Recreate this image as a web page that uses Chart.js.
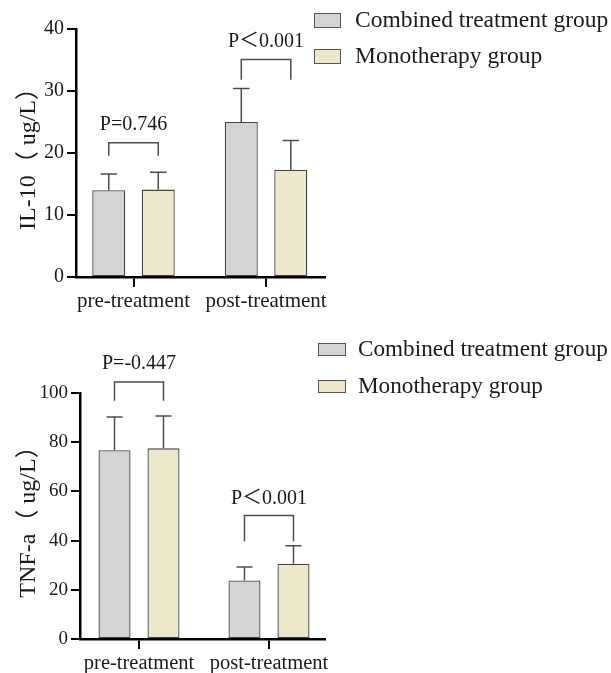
<!DOCTYPE html>
<html><head><meta charset="utf-8">
<script src="https://cdn.jsdelivr.net/npm/chart.js@4"></script>
<style>
html,body{margin:0;padding:0;background:#fff;width:611px;height:673px;overflow:hidden}
.box{position:absolute;left:0;width:611px}
</style></head><body>
<div class="box" style="top:0;height:322px"><canvas id="c1"></canvas></div>
<div class="box" style="top:330px;height:343px"><canvas id="c2"></canvas></div>
<script>
// ---- data ----
const categories = ['pre-treatment', 'post-treatment'];
const seriesNames = ['Combined treatment group', 'Monotherapy group'];

const il10Combined = [14.0, 25.0];
const il10Mono = [14.1, 17.3];
const il10CombinedSD = [2.6, 5.4];
const il10MonoSD = [2.8, 4.7];
const il10PLabels = ['P=0.746', 'P＜0.001'];
const il10Ticks = [0, 10, 20, 30, 40];
const il10Title = 'IL-10（ ug/L）';

const tnfCombined = [76.7, 23.8];
const tnfMono = [77.5, 30.6];
const tnfCombinedSD = [13.5, 5.5];
const tnfMonoSD = [13.1, 7.3];
const tnfPLabels = ['P=-0.447', 'P＜0.001'];
const tnfTicks = [0, 20, 40, 60, 80, 100];
const tnfTitle = 'TNF-a（ ug/L）';

// ---- styles ----
const FONT = "'Liberation Serif', 'Noto Sans CJK SC', serif";
const colors = ['#d4d4d4', '#ede8cc'];
const TXT = '#1a1a1a';

const annot = {
  id: 'annot',
  afterDraw(chart, args, o) {
    const ctx = chart.ctx, y = chart.scales.y;
    ctx.save();
    ctx.strokeStyle = '#4d4d4d';
    ctx.lineWidth = 1.5;
    // error bars
    o.errors.forEach((errs, di) => {
      const meta = chart.getDatasetMeta(di);
      meta.data.forEach((bar, i) => {
        const v = chart.data.datasets[di].data[i];
        const yt = y.getPixelForValue(v + errs[i]);
        const hw = bar.width / 4;
        ctx.beginPath();
        ctx.moveTo(bar.x, bar.y); ctx.lineTo(bar.x, yt);
        ctx.moveTo(bar.x - hw, yt); ctx.lineTo(bar.x + hw, yt);
        ctx.stroke();
      });
    });
    // significance brackets
    o.brackets.forEach((b, i) => {
      const b0 = chart.getDatasetMeta(0).data[i], b1 = chart.getDatasetMeta(1).data[i];
      const yTop = y.getPixelForValue(b.top), yLeg = y.getPixelForValue(b.leg);
      ctx.beginPath();
      ctx.moveTo(b0.x, yLeg); ctx.lineTo(b0.x, yTop); ctx.lineTo(b1.x, yTop); ctx.lineTo(b1.x, yLeg);
      ctx.stroke();
      ctx.fillStyle = TXT;
      ctx.font = o.pFont + 'px ' + FONT;
      ctx.textAlign = 'center'; ctx.textBaseline = 'middle';
      ctx.fillText(o.labels[i], (b0.x + b1.x) / 2, y.getPixelForValue(b.text));
    });
    // legend
    const L = o.legend;
    chart.data.datasets.forEach((ds, i) => {
      const by = L.y[i];
      ctx.fillStyle = ds.backgroundColor;
      ctx.fillRect(L.x, by, L.w, L.h);
      ctx.strokeStyle = '#555'; ctx.lineWidth = 1;
      ctx.strokeRect(L.x + 0.5, by + 0.5, L.w, L.h);
      ctx.fillStyle = TXT;
      ctx.font = L.font + 'px ' + FONT;
      ctx.textAlign = 'left'; ctx.textBaseline = 'middle';
      ctx.fillText(ds.label, L.textX, by + L.h / 2 + 1);
    });
    ctx.restore();
  }
};

function makeChart(id, vals, errs, ticks, title, pLabels, geo) {
  return new Chart(document.getElementById(id), {
    type: 'bar',
    data: {
      labels: categories,
      datasets: vals.map((v, i) => ({
        label: seriesNames[i],
        data: v,
        backgroundColor: colors[i],
        borderColor: '#444',
        borderWidth: 1.3,
        borderSkipped: false,
        categoryPercentage: geo.catPct,
        barPercentage: geo.barPct
      }))
    },
    options: {
      responsive: true,
      maintainAspectRatio: false,
      animation: false,
      layout: { padding: { left: 0, right: geo.padRight, top: geo.padTop, bottom: geo.padBottom } },
      plugins: {
        legend: { display: false },
        tooltip: { enabled: false },
        annot: {
          errors: errs,
          brackets: geo.brackets,
          labels: pLabels,
          pFont: geo.pFont,
          legend: geo.legend
        }
      },
      scales: {
        x: {
          offset: true,
          grid: { display: true, offset: false, drawOnChartArea: false, drawTicks: true, tickLength: 10, color: '#000', lineWidth: 2 },
          border: { display: true, color: '#000', width: 2.5 },
          ticks: { color: TXT, font: { family: FONT, size: geo.xFont }, padding: 2, maxRotation: 0 },
          afterBuildTicks: s => { s._startValue = geo.xStart; s._valueRange = geo.xRange; },
          afterFit: s => { s.height = geo.xHeight; }
        },
        y: {
          min: ticks[0],
          max: ticks[ticks.length - 1],
          afterBuildTicks: s => { s.ticks = ticks.map(v => ({ value: v })); },
          grid: { display: true, drawOnChartArea: false, drawTicks: true, tickLength: 9, color: '#000', lineWidth: 2 },
          border: { display: true, color: '#000', width: 2.5 },
          ticks: { color: TXT, font: { family: FONT, size: geo.yFont }, padding: 3 },
          title: { display: true, text: title, color: TXT, font: { family: FONT, size: 24 }, padding: { top: geo.titlePad, bottom: 0 } },
          afterFit: s => { s.width = geo.yWidth; }
        }
      }
    },
    plugins: [annot]
  });
}

makeChart('c1', [il10Combined, il10Mono], [il10CombinedSD, il10MonoSD], il10Ticks, il10Title, il10PLabels, {
  catPct: 0.747, barPct: 0.667,
  padRight: 286, padTop: 29, padBottom: 5, xHeight: 40, yWidth: 76,
  xStart: -0.434, xRange: 1.879,
  xFont: 21, yFont: 20, pFont: 20, titlePad: 14,
  brackets: [ { top: 21.66, leg: 19.56, text: 24.5 }, { top: 35.1, leg: 31.8, text: 38.0 } ],
  legend: { x: 314, y: [13, 49], w: 26, h: 14, textX: 355, font: 23.5 }
});

makeChart('c2', [tnfCombined, tnfMono], [tnfCombinedSD, tnfMonoSD], tnfTicks, tnfTitle, tnfPLabels, {
  catPct: 0.754, barPct: 0.653,
  padRight: 286, padTop: 63, padBottom: 0, xHeight: 34, yWidth: 80,
  xStart: -0.454, xRange: 1.885,
  xFont: 20.5, yFont: 19, pFont: 20, titlePad: 14,
  brackets: [ { top: 104.5, leg: 96.9, text: 112.0 }, { top: 50.2, leg: 39.7, text: 57.0 } ],
  legend: { x: 318, y: [13, 50], w: 27, h: 12, textX: 358, font: 23.2 }
});
</script>
</body></html>
